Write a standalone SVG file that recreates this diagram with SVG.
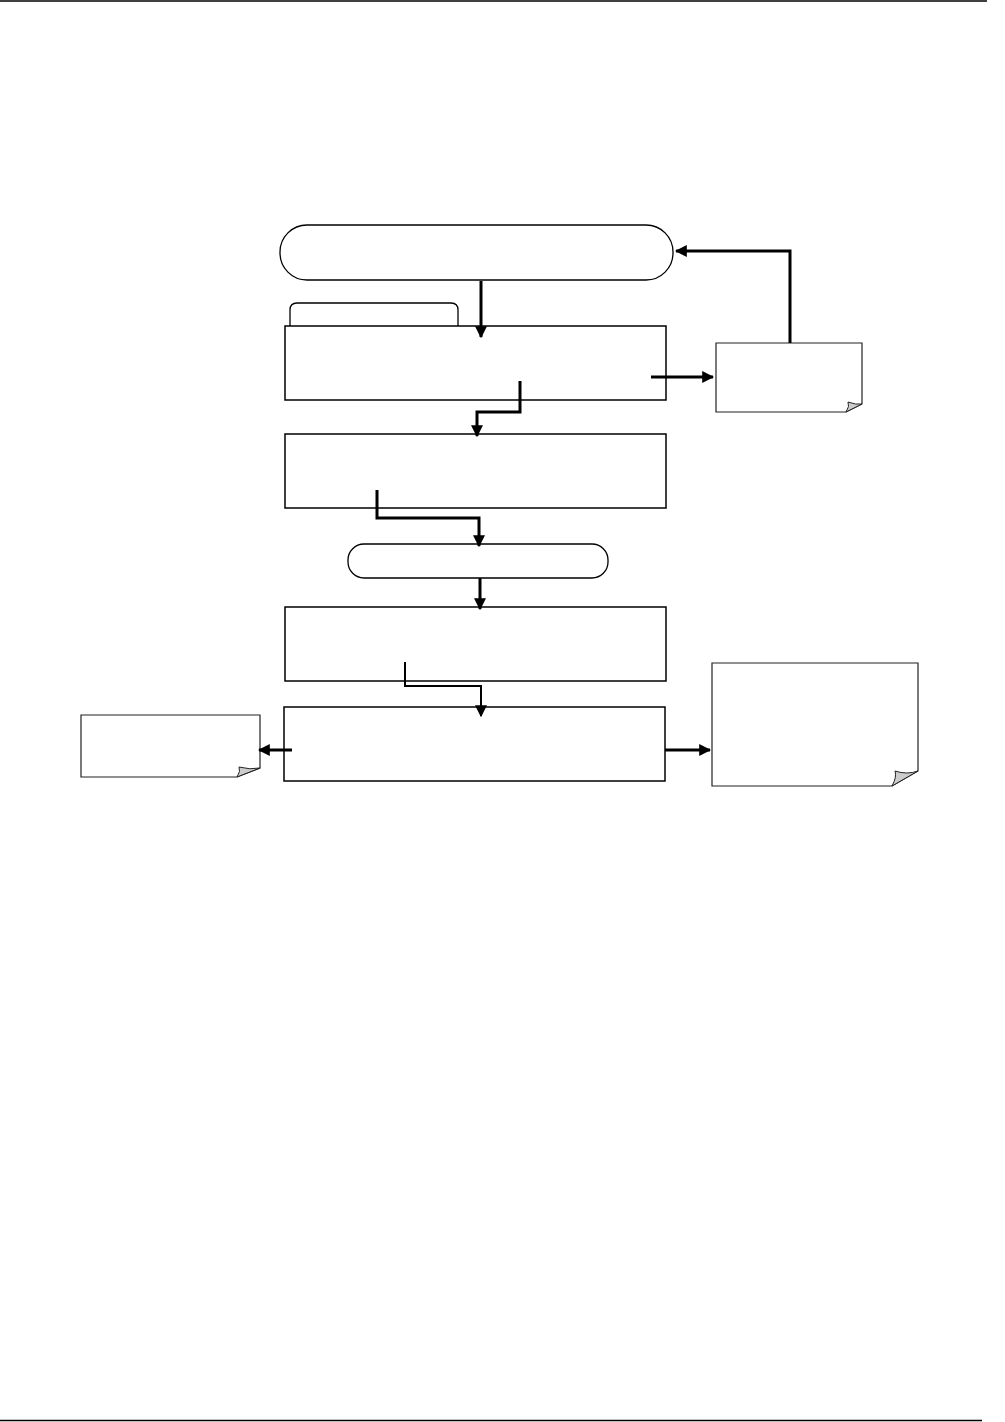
<svg xmlns="http://www.w3.org/2000/svg" width="1005" height="1422" viewBox="0 0 1005 1422">
<defs>
<marker id="ah" viewBox="0 0 10 10" refX="9" refY="5" markerWidth="4" markerHeight="4" orient="auto" markerUnits="strokeWidth">
<path d="M0,0 L10,5 L0,10 z" fill="#000"/>
</marker>
<marker id="ahs" viewBox="0 0 10 10" refX="9" refY="5" markerWidth="6" markerHeight="6" orient="auto" markerUnits="strokeWidth">
<path d="M0,0 L10,5 L0,10 z" fill="#000"/>
</marker>
</defs>
<style>
.box{fill:#fff;stroke:#000;stroke-width:1.5}
.term{fill:#fff;stroke:#000;stroke-width:1.3}
.note{fill:#fff;stroke:#222;stroke-width:1.2}
.fold{fill:#ccc;stroke:#222;stroke-width:1}
.conn{fill:none;stroke:#000;stroke-width:3}
.thin{fill:none;stroke:#000;stroke-width:2}
.rule{stroke:#000;stroke-width:1.5}
</style>
<line class="rule" x1="0" y1="1" x2="987" y2="1"/>
<line class="rule" x1="0" y1="1420.5" x2="982" y2="1420.5"/>

<g id="start"><rect class="term" x="280" y="225" width="393" height="55" rx="27"/></g>
<g id="tab"><path class="term" d="M290,326 L290,310 Q290,303 297,303 L451,303 Q458,303 458,310 L458,326"/></g>
<g id="box1"><rect class="box" x="285" y="326" width="381" height="74"/></g>
<g id="note1"><path class="note" d="M716,343 L862,343 L862,404 L846,412 L716,412 Z"/><path class="fold" d="M862,404 L846,412 Q850,406 848,402 Q856,405 862,404 Z"/></g>
<g id="box2"><rect class="box" x="285" y="434" width="381" height="74"/></g>
<g id="mid"><rect class="term" x="348" y="544" width="260" height="34" rx="16"/></g>
<g id="box3"><rect class="box" x="285" y="607" width="381" height="74"/></g>
<g id="box4"><rect class="box" x="284" y="707" width="381" height="74"/></g>
<g id="note2"><path class="note" d="M81,715 L260,715 L260,768 L237,777 L81,777 Z"/><path class="fold" d="M260,768 L237,777 Q241,771 239,767 Q250,770 260,768 Z"/></g>
<g id="note3"><path class="note" d="M712,663 L918,663 L918,771 L892,786 L712,786 Z"/><path class="fold" d="M918,771 L892,786 Q897,777 895,771 Q907,775 918,771 Z"/></g>

<g id="connectors">
<path class="conn" d="M481,281 L481,337" marker-end="url(#ah)"/>
<path class="conn" d="M651,377 L713,377" marker-end="url(#ah)"/>
<path class="conn" d="M790,343 L790,251 L676,251" marker-end="url(#ah)"/>
<path class="conn" d="M520,381 L520,412 L477,412 L477,436" marker-end="url(#ah)"/>
<path class="conn" d="M377,490 L377,518 L479,518 L479,546" marker-end="url(#ah)"/>
<path class="conn" d="M480,578 L480,609" marker-end="url(#ah)"/>
<path class="thin" d="M405,662 L405,686 L481,686 L481,716" marker-end="url(#ahs)"/>
<path class="conn" d="M292,750 L259,750" marker-end="url(#ah)"/>
<path class="conn" d="M665,750 L710,750" marker-end="url(#ah)"/>
</g>
</svg>
